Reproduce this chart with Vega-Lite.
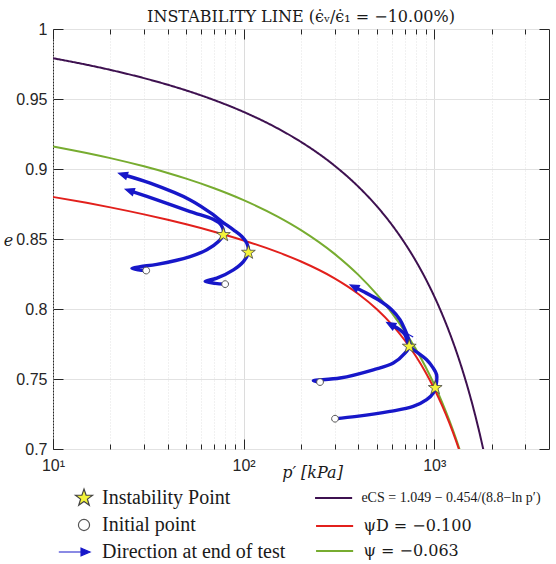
{
  "$schema": "https://vega.github.io/schema/vega-lite/v6.json",
  "width": 496,
  "height": 420,
  "autosize": {"type": "none"},
  "padding": {"left": 53, "top": 29, "right": 7, "bottom": 115},
  "background": "white",
  "title": {"text": "INSTABILITY LINE (ϵ̇ᵥ/ϵ̇₁ = −10.00%)", "font": "DejaVu Serif", "fontSize": 16, "fontWeight": "normal", "color": "#1a1a1a", "offset": -4, "anchor": "middle"},
  "config": {
    "view": {"stroke": "#262626", "strokeWidth": 1},
    "legend": {"labelFont": "Liberation Serif", "labelFontSize": 20, "labelColor": "#1a1a1a", "labelLimit": 400, "padding": 0}
  },
  "datasets": {
    "csl": [
      {"c": "eCS = 1.049 − 0.454/(8.8−ln p′)", "p": 10, "e": 0.979127},
      {"c": "eCS = 1.049 − 0.454/(8.8−ln p′)", "p": 15, "e": 0.974475},
      {"c": "eCS = 1.049 − 0.454/(8.8−ln p′)", "p": 20, "e": 0.970782},
      {"c": "eCS = 1.049 − 0.454/(8.8−ln p′)", "p": 30, "e": 0.964907},
      {"c": "eCS = 1.049 − 0.454/(8.8−ln p′)", "p": 40, "e": 0.960174},
      {"c": "eCS = 1.049 − 0.454/(8.8−ln p′)", "p": 50, "e": 0.956119},
      {"c": "eCS = 1.049 − 0.454/(8.8−ln p′)", "p": 70, "e": 0.949253},
      {"c": "eCS = 1.049 − 0.454/(8.8−ln p′)", "p": 100, "e": 0.940772},
      {"c": "eCS = 1.049 − 0.454/(8.8−ln p′)", "p": 150, "e": 0.929191},
      {"c": "eCS = 1.049 − 0.454/(8.8−ln p′)", "p": 200, "e": 0.919349},
      {"c": "eCS = 1.049 − 0.454/(8.8−ln p′)", "p": 300, "e": 0.90237},
      {"c": "eCS = 1.049 − 0.454/(8.8−ln p′)", "p": 400, "e": 0.887351},
      {"c": "eCS = 1.049 − 0.454/(8.8−ln p′)", "p": 500, "e": 0.873398},
      {"c": "eCS = 1.049 − 0.454/(8.8−ln p′)", "p": 600, "e": 0.860076},
      {"c": "eCS = 1.049 − 0.454/(8.8−ln p′)", "p": 700, "e": 0.847125},
      {"c": "eCS = 1.049 − 0.454/(8.8−ln p′)", "p": 800, "e": 0.834382},
      {"c": "eCS = 1.049 − 0.454/(8.8−ln p′)", "p": 900, "e": 0.821728},
      {"c": "eCS = 1.049 − 0.454/(8.8−ln p′)", "p": 1000, "e": 0.809073},
      {"c": "eCS = 1.049 − 0.454/(8.8−ln p′)", "p": 1100, "e": 0.796348},
      {"c": "eCS = 1.049 − 0.454/(8.8−ln p′)", "p": 1200, "e": 0.783491},
      {"c": "eCS = 1.049 − 0.454/(8.8−ln p′)", "p": 1300, "e": 0.770452},
      {"c": "eCS = 1.049 − 0.454/(8.8−ln p′)", "p": 1400, "e": 0.757184},
      {"c": "eCS = 1.049 − 0.454/(8.8−ln p′)", "p": 1500, "e": 0.743642},
      {"c": "eCS = 1.049 − 0.454/(8.8−ln p′)", "p": 1600, "e": 0.729785},
      {"c": "eCS = 1.049 − 0.454/(8.8−ln p′)", "p": 1700, "e": 0.715572},
      {"c": "eCS = 1.049 − 0.454/(8.8−ln p′)", "p": 1800, "e": 0.700963},
      {"c": "eCS = 1.049 − 0.454/(8.8−ln p′)", "p": 1900, "e": 0.685913}
    ],
    "psi": [
      {"c": "ψ = −0.063", "p": 10, "e": 0.916127},
      {"c": "ψ = −0.063", "p": 15, "e": 0.911475},
      {"c": "ψ = −0.063", "p": 20, "e": 0.907782},
      {"c": "ψ = −0.063", "p": 30, "e": 0.901907},
      {"c": "ψ = −0.063", "p": 40, "e": 0.897174},
      {"c": "ψ = −0.063", "p": 50, "e": 0.893119},
      {"c": "ψ = −0.063", "p": 70, "e": 0.886253},
      {"c": "ψ = −0.063", "p": 100, "e": 0.877772},
      {"c": "ψ = −0.063", "p": 150, "e": 0.866191},
      {"c": "ψ = −0.063", "p": 200, "e": 0.856349},
      {"c": "ψ = −0.063", "p": 300, "e": 0.83937},
      {"c": "ψ = −0.063", "p": 400, "e": 0.824351},
      {"c": "ψ = −0.063", "p": 500, "e": 0.810398},
      {"c": "ψ = −0.063", "p": 600, "e": 0.797076},
      {"c": "ψ = −0.063", "p": 700, "e": 0.784125},
      {"c": "ψ = −0.063", "p": 800, "e": 0.771382},
      {"c": "ψ = −0.063", "p": 900, "e": 0.758728},
      {"c": "ψ = −0.063", "p": 1000, "e": 0.746073},
      {"c": "ψ = −0.063", "p": 1100, "e": 0.733348},
      {"c": "ψ = −0.063", "p": 1200, "e": 0.720491},
      {"c": "ψ = −0.063", "p": 1300, "e": 0.707452},
      {"c": "ψ = −0.063", "p": 1400, "e": 0.694184},
      {"c": "ψD = −0.100", "p": 10, "e": 0.880041},
      {"c": "ψD = −0.100", "p": 15, "e": 0.875837},
      {"c": "ψD = −0.100", "p": 20, "e": 0.872587},
      {"c": "ψD = −0.100", "p": 30, "e": 0.867581},
      {"c": "ψD = −0.100", "p": 40, "e": 0.863695},
      {"c": "ψD = −0.100", "p": 50, "e": 0.860467},
      {"c": "ψD = −0.100", "p": 70, "e": 0.855193},
      {"c": "ψD = −0.100", "p": 100, "e": 0.848956},
      {"c": "ψD = −0.100", "p": 150, "e": 0.840761},
      {"c": "ψD = −0.100", "p": 200, "e": 0.833907},
      {"c": "ψD = −0.100", "p": 300, "e": 0.821892},
      {"c": "ψD = −0.100", "p": 400, "e": 0.810739},
      {"c": "ψD = −0.100", "p": 500, "e": 0.799797},
      {"c": "ψD = −0.100", "p": 600, "e": 0.78882},
      {"c": "ψD = −0.100", "p": 700, "e": 0.777695},
      {"c": "ψD = −0.100", "p": 800, "e": 0.766375},
      {"c": "ψD = −0.100", "p": 900, "e": 0.754828},
      {"c": "ψD = −0.100", "p": 1000, "e": 0.743036},
      {"c": "ψD = −0.100", "p": 1100, "e": 0.730983},
      {"c": "ψD = −0.100", "p": 1200, "e": 0.718649},
      {"c": "ψD = −0.100", "p": 1300, "e": 0.706017},
      {"c": "ψD = −0.100", "p": 1400, "e": 0.693067}
    ],
    "traj": [
      {"t": 1, "i": 1, "p": 30.83, "e": 0.82748},
      {"t": 1, "i": 2, "p": 28.0, "e": 0.82798},
      {"t": 1, "i": 3, "p": 25.94, "e": 0.82905},
      {"t": 1, "i": 4, "p": 28.68, "e": 0.83026},
      {"t": 1, "i": 5, "p": 35.09, "e": 0.83191},
      {"t": 1, "i": 6, "p": 52.44, "e": 0.83747},
      {"t": 1, "i": 7, "p": 64.13, "e": 0.84225},
      {"t": 1, "i": 8, "p": 73.78, "e": 0.84818},
      {"t": 1, "i": 9, "p": 78.36, "e": 0.85296},
      {"t": 1, "i": 10, "p": 77.61, "e": 0.85796},
      {"t": 1, "i": 11, "p": 74.4, "e": 0.86153},
      {"t": 1, "i": 12, "p": 69.45, "e": 0.86403},
      {"t": 1, "i": 13, "p": 52.44, "e": 0.86959},
      {"t": 1, "i": 14, "p": 35.09, "e": 0.87794},
      {"t": 1, "i": 15, "p": 25.63, "e": 0.88421},
      {"t": 2, "i": 1, "p": 79.98, "e": 0.81777},
      {"t": 2, "i": 2, "p": 70.88, "e": 0.81834},
      {"t": 2, "i": 3, "p": 62.84, "e": 0.81963},
      {"t": 2, "i": 4, "p": 72.35, "e": 0.82205},
      {"t": 2, "i": 5, "p": 88.42, "e": 0.82798},
      {"t": 2, "i": 6, "p": 99.76, "e": 0.8339},
      {"t": 2, "i": 7, "p": 105.97, "e": 0.84033},
      {"t": 2, "i": 8, "p": 103.94, "e": 0.84704},
      {"t": 2, "i": 9, "p": 97.86, "e": 0.85175},
      {"t": 2, "i": 10, "p": 88.42, "e": 0.85653},
      {"t": 2, "i": 11, "p": 76.87, "e": 0.86245},
      {"t": 2, "i": 12, "p": 69.45, "e": 0.86724},
      {"t": 2, "i": 13, "p": 52.44, "e": 0.87794},
      {"t": 2, "i": 14, "p": 32.36, "e": 0.88986},
      {"t": 2, "i": 15, "p": 23.64, "e": 0.89572},
      {"t": 3, "i": 1, "p": 251.7, "e": 0.74782},
      {"t": 3, "i": 2, "p": 232.2, "e": 0.74875},
      {"t": 3, "i": 3, "p": 320.4, "e": 0.75068},
      {"t": 3, "i": 4, "p": 478.9, "e": 0.7566},
      {"t": 3, "i": 5, "p": 609.8, "e": 0.76138},
      {"t": 3, "i": 6, "p": 702.3, "e": 0.76852},
      {"t": 3, "i": 7, "p": 739.6, "e": 0.77323},
      {"t": 3, "i": 8, "p": 721.9, "e": 0.7768},
      {"t": 3, "i": 9, "p": 702.3, "e": 0.78158},
      {"t": 3, "i": 10, "p": 661.1, "e": 0.78515},
      {"t": 3, "i": 11, "p": 599.9, "e": 0.7883},
      {"t": 4, "i": 1, "p": 301.7, "e": 0.72163},
      {"t": 4, "i": 2, "p": 392.0, "e": 0.72327},
      {"t": 4, "i": 3, "p": 586.0, "e": 0.72684},
      {"t": 4, "i": 4, "p": 776.0, "e": 0.73041},
      {"t": 4, "i": 5, "p": 912.6, "e": 0.73519},
      {"t": 4, "i": 6, "p": 988.1, "e": 0.73997},
      {"t": 4, "i": 7, "p": 1012.0, "e": 0.7437},
      {"t": 4, "i": 8, "p": 1029.4, "e": 0.74825},
      {"t": 4, "i": 9, "p": 1029.4, "e": 0.75303},
      {"t": 4, "i": 10, "p": 988.1, "e": 0.75781},
      {"t": 4, "i": 11, "p": 912.6, "e": 0.76374},
      {"t": 4, "i": 12, "p": 824.5, "e": 0.76852},
      {"t": 4, "i": 13, "p": 761.3, "e": 0.77209},
      {"t": 4, "i": 14, "p": 730.7, "e": 0.77923},
      {"t": 4, "i": 15, "p": 702.3, "e": 0.78515},
      {"t": 4, "i": 16, "p": 661.1, "e": 0.79229},
      {"t": 4, "i": 17, "p": 598.0, "e": 0.79943},
      {"t": 4, "i": 18, "p": 508.7, "e": 0.80657},
      {"t": 4, "i": 19, "p": 424.5, "e": 0.81249},
      {"t": 4, "i": 20, "p": 385.7, "e": 0.81535}
    ],
    "marks": [
      {"kind": "Initial point", "p": 30.83, "e": 0.82748, "angle": 0},
      {"kind": "Initial point", "p": 79.98, "e": 0.81777, "angle": 0},
      {"kind": "Initial point", "p": 251.7, "e": 0.74782, "angle": 0},
      {"kind": "Initial point", "p": 301.7, "e": 0.72163, "angle": 0},
      {"kind": "Instability Point", "p": 78.36, "e": 0.85296, "angle": 0},
      {"kind": "Instability Point", "p": 105.97, "e": 0.84033, "angle": 0},
      {"kind": "Instability Point", "p": 739.6, "e": 0.77323, "angle": 0},
      {"kind": "Instability Point", "p": 1012.0, "e": 0.7437, "angle": 0},
      {"kind": "Direction at end of test", "p": 25.63, "e": 0.88421, "angle": 198.6},
      {"kind": "Direction at end of test", "p": 23.64, "e": 0.89572, "angle": 197.5},
      {"kind": "Direction at end of test", "p": 599.9, "e": 0.7883, "angle": 208.8},
      {"kind": "Direction at end of test", "p": 385.7, "e": 0.81535, "angle": 206.7}
    ]
  },
  "layer": [
    {
      "data": {"name": "csl"},
      "mark": {"type": "line", "clip": true, "strokeWidth": 2, "interpolate": "monotone", "color": "#3e1150"},
      "encoding": {
        "x": {
          "field": "p", "type": "quantitative",
          "scale": {"type": "log", "domain": [10, 4000], "nice": false},
          "axis": {
            "orient": "bottom",
            "values": [10, 20, 30, 40, 50, 60, 70, 80, 90, 100, 200, 300, 400, 500, 600, 700, 800, 900, 1000, 2000, 3000],
            "labelExpr": "datum.value == 10 ? '10¹' : datum.value == 100 ? '10²' : datum.value == 1000 ? '10³' : ''",
            "labelFont": "Liberation Sans", "labelFontSize": 16, "labelColor": "#262626",
            "labelOverlap": false, "labelFlush": false, "labelPadding": 18,
            "ticks": true, "tickColor": "#262626", "tickWidth": 1,
            "tickSize": {"condition": {"test": "datum.value == 10 || datum.value == 100 || datum.value == 1000", "value": -10}, "value": -5},
            "domain": false,
            "grid": true,
            "gridColor": {"condition": {"test": "datum.value == 100 || datum.value == 1000", "value": "#dcdcdc"}, "value": "#e2e2e2"},
            "gridDash": {"condition": {"test": "datum.value == 100 || datum.value == 1000", "value": []}, "value": [1, 2]},
            "title": "p′ [kPa]", "titleFont": "DejaVu Serif", "titleFontStyle": "italic", "titleFontWeight": "normal",
            "titleFontSize": 16, "titleColor": "#1a1a1a", "titleX": 259, "titleY": 28, "titleBaseline": "alphabetic", "titleAlign": "center"
          }
        },
        "y": {
          "field": "e", "type": "quantitative",
          "scale": {"domain": [0.7, 1], "nice": false, "zero": false},
          "axis": {
            "orient": "left",
            "values": [0.7, 0.75, 0.8, 0.85, 0.9, 0.95, 1],
            "format": "~g",
            "labelFont": "Liberation Sans", "labelFontSize": 16, "labelColor": "#262626",
            "labelFlush": false, "labelOverlap": false, "labelPadding": 16,
            "ticks": true, "tickColor": "#262626", "tickSize": -10,
            "domain": false,
            "grid": true, "gridColor": "#e2e2e2",
            "title": "e", "titleFont": "DejaVu Serif", "titleFontStyle": "italic", "titleFontWeight": "normal",
            "titleFontSize": 16, "titleColor": "#1a1a1a", "titleAngle": 0, "titleX": -45, "titleY": 211, "titleAlign": "center", "titleBaseline": "middle"
          }
        },
        "strokeDash": {
          "field": "c", "type": "nominal",
          "scale": {"domain": ["eCS = 1.049 − 0.454/(8.8−ln p′)"], "range": [[1, 0]]},
          "legend": {
            "orient": "none", "legendX": 273.6, "legendY": 462, "title": null,
            "symbolType": "M-4,0L4,0", "symbolSize": 86, "symbolStrokeWidth": 2, "symbolStrokeColor": "#3e1150",
            "labelFont": "Liberation Serif", "labelFontSize": 14, "labelColor": "#1a1a1a",
            "labelOffset": 20.8, "labelLimit": 400, "padding": 0
          }
        }
      }
    },
    {
      "data": {"name": "psi"},
      "mark": {"type": "line", "clip": true, "strokeWidth": 2, "interpolate": "monotone"},
      "encoding": {
        "x": {"field": "p", "type": "quantitative", "axis": null},
        "y": {"field": "e", "type": "quantitative", "axis": null},
        "color": {
          "field": "c", "type": "nominal",
          "scale": {"domain": ["ψD = −0.100", "ψ = −0.063"], "range": ["#e2201c", "#77ac30"]},
          "legend": {
            "orient": "none", "legendX": 273.6, "legendY": 489, "title": null,
            "symbolType": "M-4,0L4,0", "symbolSize": 86, "symbolStrokeWidth": 2,
            "labelFont": "DejaVu Serif", "labelFontSize": 16, "labelColor": "#1a1a1a",
            "labelOffset": 20.8, "rowPadding": 9, "labelLimit": 400, "padding": 0
          }
        }
      }
    },
    {
      "data": {"name": "traj"},
      "mark": {"type": "line", "clip": true, "strokeWidth": 3.4, "interpolate": "catmull-rom", "color": "#1717c9"},
      "encoding": {
        "x": {
          "field": "p", "type": "quantitative",
          "axis": {
            "orient": "top",
            "values": [10, 20, 30, 40, 50, 60, 70, 80, 90, 100, 200, 300, 400, 500, 600, 700, 800, 900, 1000, 2000, 3000],
            "labels": false, "domain": false, "grid": false, "title": null,
            "ticks": true, "tickColor": "#262626",
            "tickSize": {"condition": {"test": "datum.value == 10 || datum.value == 100 || datum.value == 1000", "value": -10}, "value": -5}
          }
        },
        "y": {
          "field": "e", "type": "quantitative",
          "axis": {
            "orient": "right",
            "values": [0.7, 0.75, 0.8, 0.85, 0.9, 0.95, 1],
            "labels": false, "domain": false, "grid": false, "title": null,
            "ticks": true, "tickColor": "#262626", "tickSize": -10
          }
        },
        "detail": {"field": "t", "type": "nominal"},
        "order": {"field": "i", "type": "quantitative"}
      }
    },
    {
      "data": {"name": "marks"},
      "transform": [{"filter": "datum.kind == 'Direction at end of test'"}],
      "mark": {"type": "point", "size": 300, "strokeWidth": 1.2, "opacity": 1},
      "encoding": {
        "x": {"field": "p", "type": "quantitative", "axis": null},
        "y": {"field": "e", "type": "quantitative", "axis": null},
        "angle": {"field": "angle", "type": "quantitative", "scale": null},
        "shape": {"field": "kind", "type": "nominal", "scale": {"domain": ["Instability Point", "Initial point", "Direction at end of test"], "range": ["M0,-1L0.235,-0.324L0.951,-0.309L0.38,0.124L0.588,0.809L0,0.4L-0.588,0.809L-0.38,0.124L-0.951,-0.309L-0.235,-0.324Z", "M0.62,0A0.62,0.62,0,1,1,-0.62,0A0.62,0.62,0,1,1,0.62,0Z", "M-2.8,0L-0.33,0M0.67,0L-0.33,-0.42L-0.33,0.42Z"]},
          "legend": {"orient": "none", "legendX": 21, "legendY": 459, "title": null, "symbolSize": 324, "symbolStrokeWidth": 1.2, "labelFont": "Liberation Serif", "labelFontSize": 20, "labelColor": "#1a1a1a", "labelOffset": 8, "rowPadding": 7, "labelLimit": 400, "padding": 0}},
        "fill": {"field": "kind", "type": "nominal", "scale": {"domain": ["Instability Point", "Initial point", "Direction at end of test"], "range": ["#f4f43a", "#ffffff", "#1717c9"]},
          "legend": {"orient": "none", "legendX": 21, "legendY": 459, "title": null, "symbolSize": 324, "symbolStrokeWidth": 1.2, "labelFont": "Liberation Serif", "labelFontSize": 20, "labelColor": "#1a1a1a", "labelOffset": 8, "rowPadding": 7, "labelLimit": 400, "padding": 0}},
        "stroke": {"field": "kind", "type": "nominal", "scale": {"domain": ["Instability Point", "Initial point", "Direction at end of test"], "range": ["#444444", "#555555", "#1717c9"]},
          "legend": {"orient": "none", "legendX": 21, "legendY": 459, "title": null, "symbolSize": 324, "symbolStrokeWidth": 1.2, "labelFont": "Liberation Serif", "labelFontSize": 20, "labelColor": "#1a1a1a", "labelOffset": 8, "rowPadding": 7, "labelLimit": 400, "padding": 0}}
      }
    },
    {
      "data": {"name": "marks"},
      "transform": [{"filter": "datum.kind == 'Initial point'"}],
      "mark": {"type": "point", "size": 120, "strokeWidth": 1, "opacity": 1},
      "encoding": {
        "x": {"field": "p", "type": "quantitative", "axis": null},
        "y": {"field": "e", "type": "quantitative", "axis": null},
        "shape": {"field": "kind", "type": "nominal",
          "legend": {"orient": "none", "legendX": 21, "legendY": 459, "title": null, "symbolSize": 324, "symbolStrokeWidth": 1.2, "labelFont": "Liberation Serif", "labelFontSize": 20, "labelColor": "#1a1a1a", "labelOffset": 8, "rowPadding": 7, "labelLimit": 400, "padding": 0}},
        "fill": {"field": "kind", "type": "nominal",
          "legend": {"orient": "none", "legendX": 21, "legendY": 459, "title": null, "symbolSize": 324, "symbolStrokeWidth": 1.2, "labelFont": "Liberation Serif", "labelFontSize": 20, "labelColor": "#1a1a1a", "labelOffset": 8, "rowPadding": 7, "labelLimit": 400, "padding": 0}},
        "stroke": {"field": "kind", "type": "nominal",
          "legend": {"orient": "none", "legendX": 21, "legendY": 459, "title": null, "symbolSize": 324, "symbolStrokeWidth": 1.2, "labelFont": "Liberation Serif", "labelFontSize": 20, "labelColor": "#1a1a1a", "labelOffset": 8, "rowPadding": 7, "labelLimit": 400, "padding": 0}}
      }
    },
    {
      "data": {"name": "marks"},
      "transform": [{"filter": "datum.kind == 'Instability Point'"}],
      "mark": {"type": "point", "size": 210, "strokeWidth": 0.8, "opacity": 1},
      "encoding": {
        "x": {"field": "p", "type": "quantitative", "axis": null},
        "y": {"field": "e", "type": "quantitative", "axis": null},
        "shape": {"field": "kind", "type": "nominal",
          "legend": {"orient": "none", "legendX": 21, "legendY": 459, "title": null, "symbolSize": 324, "symbolStrokeWidth": 1.2, "labelFont": "Liberation Serif", "labelFontSize": 20, "labelColor": "#1a1a1a", "labelOffset": 8, "rowPadding": 7, "labelLimit": 400, "padding": 0}},
        "fill": {"field": "kind", "type": "nominal",
          "legend": {"orient": "none", "legendX": 21, "legendY": 459, "title": null, "symbolSize": 324, "symbolStrokeWidth": 1.2, "labelFont": "Liberation Serif", "labelFontSize": 20, "labelColor": "#1a1a1a", "labelOffset": 8, "rowPadding": 7, "labelLimit": 400, "padding": 0}},
        "stroke": {"field": "kind", "type": "nominal",
          "legend": {"orient": "none", "legendX": 21, "legendY": 459, "title": null, "symbolSize": 324, "symbolStrokeWidth": 1.2, "labelFont": "Liberation Serif", "labelFontSize": 20, "labelColor": "#1a1a1a", "labelOffset": 8, "rowPadding": 7, "labelLimit": 400, "padding": 0}}
      }
    }
  ],
  "resolve": {"axis": {"x": "independent", "y": "independent"}}
}
